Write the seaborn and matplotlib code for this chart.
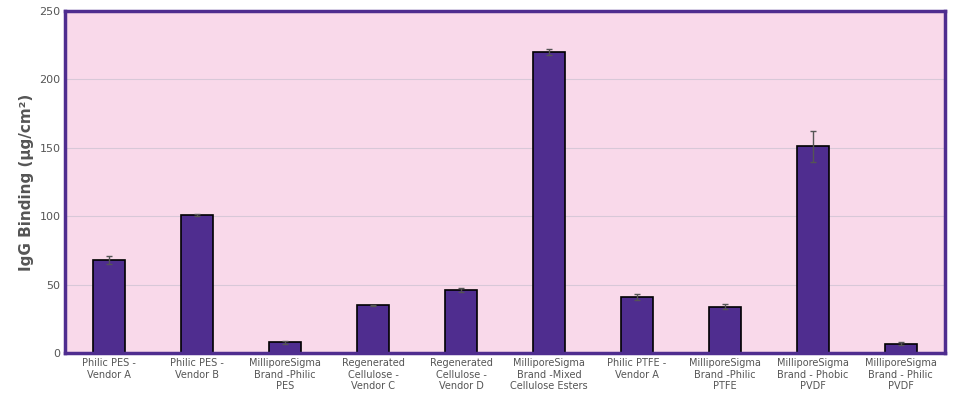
import matplotlib
matplotlib.use("Agg")
import matplotlib.pyplot as plt
import seaborn as sns
import pandas as pd

categories = ["Philic PES -\nVendor A", "Philic PES -\nVendor B", "MilliporeSigma\nBrand -Philic\nPES",
              "Regenerated\nCellulose -\nVendor C", "Regenerated\nCellulose -\nVendor D",
              "MilliporeSigma\nBrand -Mixed\nCellulose Esters", "Philic PTFE -\nVendor A",
              "MilliporeSigma\nBrand -Philic\nPTFE", "MilliporeSigma\nBrand - Phobic\nPVDF",
              "MilliporeSigma\nBrand - Philic\nPVDF"]
values = [68, 101, 8, 35, 46, 220, 41, 34, 151, 7]
errors = [3, 1, 1, 0.5, 1.5, 2, 2, 2, 11, 1]

df = pd.DataFrame({"cat": categories, "val": values})
sns.set_style("white")
fig = plt.figure(figsize=(9.6, 4.05), dpi=100)
ax = fig.add_axes([0.068, 0.128, 0.916, 0.845])
ax.set_facecolor("#f9d9ea")
ax.grid(axis="y", color="#d8c8d8", linewidth=0.8)
ax.set_axisbelow(True)
sns.barplot(data=df, x="cat", y="val", color="#4f2d8f", width=0.36,
            edgecolor="black", linewidth=1.2, saturation=1, ax=ax, errorbar=None)
ax.errorbar(range(len(values)), values, yerr=errors, fmt="none", ecolor="#555555",
            elinewidth=1, capsize=2)
ax.set_ylim(0, 250)
ax.set_yticks(range(0, 251, 50))
ax.set_xlim(-0.5, len(values) - 0.5)
ax.set_xlabel("")
ax.set_ylabel("IgG Binding (µg/cm²)", fontsize=11, fontweight="bold", color="#555555")
ax.tick_params(axis="x", labelsize=7, colors="#555555", length=0)
ax.tick_params(axis="y", labelsize=8, colors="#555555", length=0)
for s in ax.spines.values():
    s.set_color("#4f2d8f")
    s.set_linewidth(2.5)
fig.savefig("out.png", dpi=100)
